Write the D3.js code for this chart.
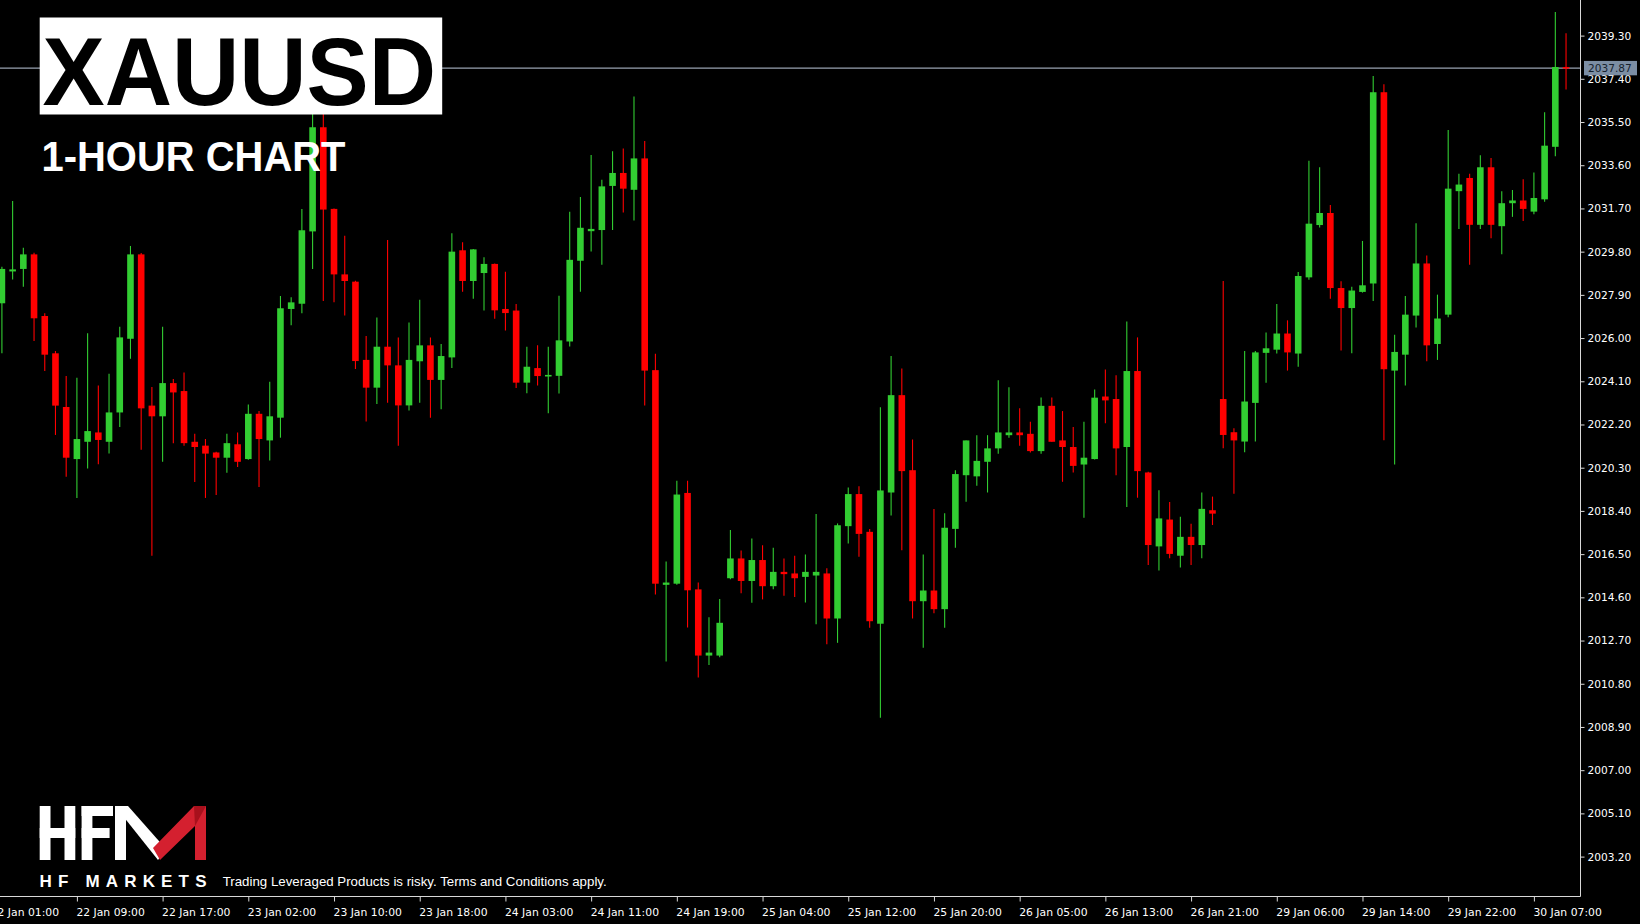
<!DOCTYPE html>
<html><head><meta charset="utf-8">
<script src="https://cdn.jsdelivr.net/npm/d3@7"></script>
<style>html,body{margin:0;padding:0;background:#000;overflow:hidden}</style>
</head><body>
<svg id="chart" width="1640" height="924"></svg>
<script>
// ---- data (XAUUSD H1, 22 Jan 02:00 .. 30 Jan 09:00) ----
const openP = [2027.53,2028.93,2029.04,2029.68,2026.97,2025.33,2022.97,2020.68,2021.44,2021.85,
2021.44,2022.73,2025.97,2029.68,2023.03,2022.56,2024.02,2023.67,2021.44,2021.27,
2020.97,2020.74,2021.33,2020.68,2022.67,2021.50,2022.50,2027.28,2027.51,2030.69,
2035.27,2031.68,2028.80,2028.48,2025.04,2023.82,2025.62,2024.80,2023.04,2024.98,
2025.68,2024.16,2025.15,2029.86,2028.51,2028.86,2029.26,2027.28,2027.21,2024.04,
2024.68,2024.33,2024.34,2025.85,2029.40,2030.70,2030.75,2032.69,2033.26,2032.52,
2033.90,2024.59,2015.15,2015.20,2019.19,2014.95,2012.04,2012.04,2015.44,2016.31,
2015.32,2016.24,2015.09,2015.72,2015.65,2015.50,2015.56,2015.65,2013.67,2017.73,
2019.14,2017.48,2013.44,2019.21,2023.49,2020.19,2014.43,2014.90,2014.08,2017.61,
2019.97,2019.92,2020.56,2021.15,2021.73,2021.85,2021.79,2021.03,2023.02,2021.50,
2021.21,2020.44,2020.68,2023.43,2023.32,2021.21,2024.55,2020.09,2016.84,2018.02,
2016.43,2017.26,2016.90,2018.43,2023.32,2021.86,2021.45,2023.15,2025.35,2025.49,
2026.20,2025.32,2028.67,2030.97,2031.50,2028.20,2027.32,2028.03,2028.40,2036.81,
2024.57,2025.27,2026.99,2029.28,2025.74,2027.03,2032.46,2033.04,2030.98,2033.51,
2030.92,2031.93,2032.05,2031.56,2032.10,2034.41,2037.92];
const highP = [2029.14,2032.03,2029.97,2029.75,2027.09,2025.43,2024.33,2024.26,2026.21,2023.91,
2024.43,2026.50,2030.05,2029.74,2023.85,2026.50,2024.20,2024.49,2021.79,2021.56,
2021.00,2021.79,2021.85,2023.08,2022.79,2024.08,2027.85,2027.79,2031.68,2035.95,
2035.95,2031.70,2030.50,2028.52,2026.09,2026.91,2030.31,2026.03,2026.69,2027.68,
2026.03,2025.74,2030.61,2030.21,2029.92,2029.55,2029.28,2028.92,2027.50,2025.62,
2025.68,2025.62,2027.86,2031.56,2032.20,2034.05,2032.96,2034.22,2034.34,2036.62,
2034.67,2025.31,2016.18,2019.73,2019.73,2015.25,2013.72,2014.53,2017.56,2016.66,
2017.19,2016.89,2016.78,2016.31,2016.43,2016.48,2018.26,2015.88,2017.85,2019.43,
2019.49,2017.60,2022.96,2025.21,2024.66,2021.54,2016.48,2018.48,2018.30,2020.19,
2021.50,2021.73,2021.73,2024.14,2023.84,2022.91,2022.32,2023.39,2023.39,2022.79,
2022.09,2022.32,2023.74,2024.62,2024.37,2026.73,2026.03,2020.12,2019.31,2018.79,
2018.14,2017.84,2019.21,2019.03,2028.51,2022.03,2025.43,2025.43,2026.25,2027.50,
2026.78,2028.91,2033.80,2033.51,2031.85,2028.50,2028.26,2030.27,2037.52,2037.16,
2026.15,2027.85,2031.05,2029.63,2027.91,2035.15,2033.22,2033.22,2034.04,2033.92,
2032.46,2032.51,2032.98,2033.28,2035.93,2040.34,2039.40];
const lowP = [2025.33,2028.58,2028.26,2025.87,2024.55,2021.74,2019.90,2018.97,2020.26,2020.45,
2020.92,2022.09,2025.09,2021.09,2016.43,2020.56,2021.38,2021.27,2019.67,2018.97,
2019.10,2020.08,2020.33,2020.65,2019.45,2020.62,2021.62,2026.56,2027.09,2029.04,
2027.63,2027.57,2026.99,2024.64,2022.33,2023.10,2023.16,2021.27,2022.81,2023.16,
2022.50,2022.87,2024.68,2028.04,2027.73,2027.21,2026.85,2026.33,2023.81,2023.57,
2023.92,2022.69,2023.56,2025.63,2028.04,2029.81,2029.22,2030.75,2031.52,2031.17,
2023.03,2014.73,2011.78,2015.15,2013.27,2011.08,2011.62,2011.97,2015.40,2014.78,
2014.36,2014.51,2014.96,2014.67,2014.61,2014.37,2013.42,2012.54,2012.60,2016.97,
2016.38,2013.26,2009.30,2018.20,2016.67,2013.67,2012.38,2013.90,2013.26,2016.78,
2018.80,2019.51,2019.21,2020.91,2021.62,2021.26,2020.97,2020.91,2021.44,2019.68,
2020.09,2018.10,2020.66,2022.26,2019.97,2018.57,2018.98,2016.02,2015.78,2016.32,
2015.91,2016.02,2016.32,2017.78,2021.15,2019.15,2020.98,2021.45,2024.04,2025.32,
2024.57,2024.74,2028.56,2030.86,2027.73,2025.45,2025.33,2028.00,2027.63,2021.51,
2020.44,2023.91,2026.46,2024.98,2025.04,2026.92,2030.80,2029.22,2030.80,2030.39,
2029.69,2031.33,2031.15,2031.44,2031.99,2034.00,2036.93];
const closeP = [2029.04,2029.02,2029.68,2026.87,2025.27,2023.03,2020.74,2021.56,2021.91,2021.52,
2022.73,2026.03,2029.68,2022.91,2022.56,2024.02,2023.61,2021.38,2021.21,2020.92,
2020.74,2021.38,2020.56,2022.67,2021.56,2022.56,2027.31,2027.57,2030.74,2035.27,
2031.65,2028.80,2028.51,2024.99,2023.82,2025.62,2024.80,2023.04,2025.04,2025.68,
2024.16,2025.21,2029.80,2028.51,2029.90,2029.26,2027.22,2027.10,2024.04,2024.74,
2024.33,2024.38,2025.90,2029.44,2030.85,2030.80,2032.67,2033.26,2032.57,2033.90,
2024.57,2015.20,2015.25,2019.12,2014.91,2012.04,2012.17,2013.48,2016.31,2015.32,
2016.24,2015.09,2015.72,2015.62,2015.44,2015.72,2015.72,2013.67,2017.77,2019.14,
2017.39,2013.55,2019.30,2023.49,2020.15,2014.43,2014.90,2014.08,2017.66,2020.02,
2021.50,2020.60,2021.15,2021.85,2021.85,2021.73,2021.03,2023.02,2021.44,2021.21,
2020.38,2020.74,2023.38,2023.26,2021.15,2024.55,2020.15,2016.90,2018.07,2016.51,
2017.26,2016.90,2018.49,2018.28,2021.74,2021.50,2023.21,2025.37,2025.55,2026.20,
2025.37,2028.73,2031.03,2031.50,2028.20,2027.32,2028.09,2028.32,2036.81,2024.63,
2025.39,2027.03,2029.28,2025.68,2026.86,2032.57,2032.75,2030.98,2033.51,2030.98,
2031.93,2032.05,2031.68,2032.16,2034.46,2037.92,2037.87];
const timeLabels = ["22 Jan 01:00","22 Jan 09:00","22 Jan 17:00","23 Jan 02:00","23 Jan 10:00",
"23 Jan 18:00","24 Jan 03:00","24 Jan 11:00","24 Jan 19:00","25 Jan 04:00","25 Jan 12:00",
"25 Jan 20:00","26 Jan 05:00","26 Jan 13:00","26 Jan 21:00","29 Jan 06:00","29 Jan 14:00",
"29 Jan 22:00","30 Jan 07:00"];
const timeLabelBar = [-1,7,15,23,31,39,47,55,63,71,79,87,95,103,111,119,127,135,143];
const priceTicks = [2039.30,2037.40,2035.50,2033.60,2031.70,2029.80,2027.90,2026.00,2024.10,
2022.20,2020.30,2018.40,2016.50,2014.60,2012.70,2010.80,2008.90,2007.00,2005.10,2003.20];
const lastPrice = 2037.87;
const titleText = "XAUUSD";
const subtitleText = "1-HOUR CHART";
const brandText = "HF MARKETS";
const disclaimer = "Trading Leveraged Products is risky. Terms and Conditions apply.";

// ---- drawing ----
const svg = d3.select("#chart");
svg.append("rect").attr("width",1640).attr("height",924).attr("fill","#000");

const plotRight = 1580.5, plotBottom = 896.5;
const x = d3.scaleLinear().domain([7,143]).range([76.9,1533.9]);
const y = d3.scaleLinear().domain([2003.20,2039.30]).range([856.6,35.6]);
const bodyW = 6.6;
const GREEN = "#32cd32", RED = "#ff0000";

const plot = svg.append("g");
const bars = d3.range(openP.length).map(i => ({i, o:openP[i], h:highP[i], l:lowP[i], c:closeP[i]}));

// bid line
plot.append("line").attr("x1",0).attr("x2",plotRight)
  .attr("y1",y(lastPrice)).attr("y2",y(lastPrice))
  .attr("stroke","#98a2b0").attr("stroke-width",1.2);

const cg = plot.selectAll("g.candle").data(bars).join("g").attr("class","candle");
cg.append("line")
  .attr("x1",d=>x(d.i)).attr("x2",d=>x(d.i))
  .attr("y1",d=>y(d.h)).attr("y2",d=>y(d.l))
  .attr("stroke",d=>d.c>=d.o?GREEN:RED).attr("stroke-width",1.1);
cg.append("rect")
  .attr("x",d=>x(d.i)-bodyW/2).attr("width",bodyW)
  .attr("y",d=>y(Math.max(d.o,d.c)))
  .attr("height",d=>Math.max(1.6, Math.abs(y(d.o)-y(d.c))))
  .attr("fill",d=>d.c>=d.o?GREEN:RED);

// axes frame
const axisCol = "#d8d8d8";
svg.append("line").attr("x1",plotRight).attr("x2",plotRight).attr("y1",0).attr("y2",plotBottom)
  .attr("stroke",axisCol).attr("stroke-width",1);
svg.append("line").attr("x1",0).attr("x2",plotRight).attr("y1",plotBottom).attr("y2",plotBottom)
  .attr("stroke",axisCol).attr("stroke-width",1);

const yAxis = d3.axisRight(y).tickValues(priceTicks).tickFormat(d3.format(".2f"))
  .tickSize(4).tickPadding(3).tickSizeOuter(0);
const gy = svg.append("g").attr("transform",`translate(${plotRight},0)`).call(yAxis);
gy.select(".domain").remove();
gy.selectAll("line").attr("stroke",axisCol);
gy.selectAll("text").attr("fill","#ffffff").attr("font-family","DejaVu Sans, sans-serif")
  .attr("font-size",10.6);

const xAxis = d3.axisBottom(x).tickValues(timeLabelBar).tickFormat((d,i)=>timeLabels[i])
  .tickSize(5).tickSizeOuter(0);
const gx = svg.append("g").attr("transform",`translate(0,${plotBottom})`).call(xAxis);
gx.select(".domain").remove();
gx.selectAll("line").attr("stroke",axisCol);
gx.selectAll("text").attr("fill","#ffffff").attr("font-family","DejaVu Sans, sans-serif")
  .attr("font-size",10.8).attr("text-anchor","start").attr("x",-1).attr("y",12);

// current price label
const lp = svg.append("g").attr("transform",`translate(1584,${y(lastPrice)})`);
lp.append("rect").attr("x",0).attr("y",-7.2).attr("width",53).attr("height",14.4).attr("fill","#7c8ea4");
lp.append("text").attr("x",4).attr("y",0).attr("dy","0.36em").text(d3.format(".2f")(lastPrice))
  .attr("fill","#17232f").attr("font-family","DejaVu Sans, sans-serif").attr("font-size",10.6);

// title block
svg.append("rect").attr("x",39.7).attr("y",17.5).attr("width",402.5).attr("height",97).attr("fill","#ffffff");
svg.append("text").attr("x",42.5).attr("y",105).text(titleText)
  .attr("font-family","Liberation Sans, Arial, sans-serif").attr("font-weight","bold")
  .attr("font-size",97).attr("fill","#000").attr("textLength",393.5).attr("lengthAdjust","spacingAndGlyphs");
svg.append("text").attr("x",41.5).attr("y",171).text(subtitleText)
  .attr("font-family","Liberation Sans, Arial, sans-serif").attr("font-weight","bold")
  .attr("font-size",43).attr("fill","#fff").attr("textLength",304).attr("lengthAdjust","spacingAndGlyphs");

// HFM logo
const logo = svg.append("g");
const W = "#ffffff", LR = "#d4202f";
// H
logo.append("rect").attr("x",39.7).attr("y",806).attr("width",10.8).attr("height",54).attr("fill",W);
logo.append("rect").attr("x",64.5).attr("y",806).attr("width",10.8).attr("height",54).attr("fill",W);
logo.append("rect").attr("x",39.7).attr("y",828).attr("width",35.6).attr("height",10).attr("fill",W);
// F
logo.append("rect").attr("x",81.6).attr("y",806).attr("width",10.8).attr("height",54).attr("fill",W);
logo.append("rect").attr("x",81.6).attr("y",806).attr("width",31.4).attr("height",10).attr("fill",W);
logo.append("rect").attr("x",81.6).attr("y",828).attr("width",28).attr("height",10).attr("fill",W);
// M
logo.append("rect").attr("x",115).attr("y",806).attr("width",11).attr("height",54).attr("fill",W);
logo.append("path").attr("d","M115,806 L128,806 L166,849 L158,860 Z").attr("fill",W);
logo.append("path").attr("d","M153,848 L194,806 L206,806 L206,860 L195,860 L195,826 L160,860 Z").attr("fill",LR);
logo.append("path").attr("d","M194,806 L206,806 L195,826 Z").attr("fill","#a8101c");

svg.append("text").attr("x",39.5).attr("y",886.5).text(brandText)
  .attr("font-family","Liberation Sans, Arial, sans-serif").attr("font-weight","bold")
  .attr("font-size",17).attr("fill","#fff").attr("textLength",167).attr("lengthAdjust","spacing");
svg.append("text").attr("x",222.7).attr("y",886).text(disclaimer)
  .attr("font-family","Liberation Sans, Arial, sans-serif")
  .attr("font-size",13.5).attr("fill","#fff").attr("textLength",384).attr("lengthAdjust","spacingAndGlyphs");
</script>
</body></html>
